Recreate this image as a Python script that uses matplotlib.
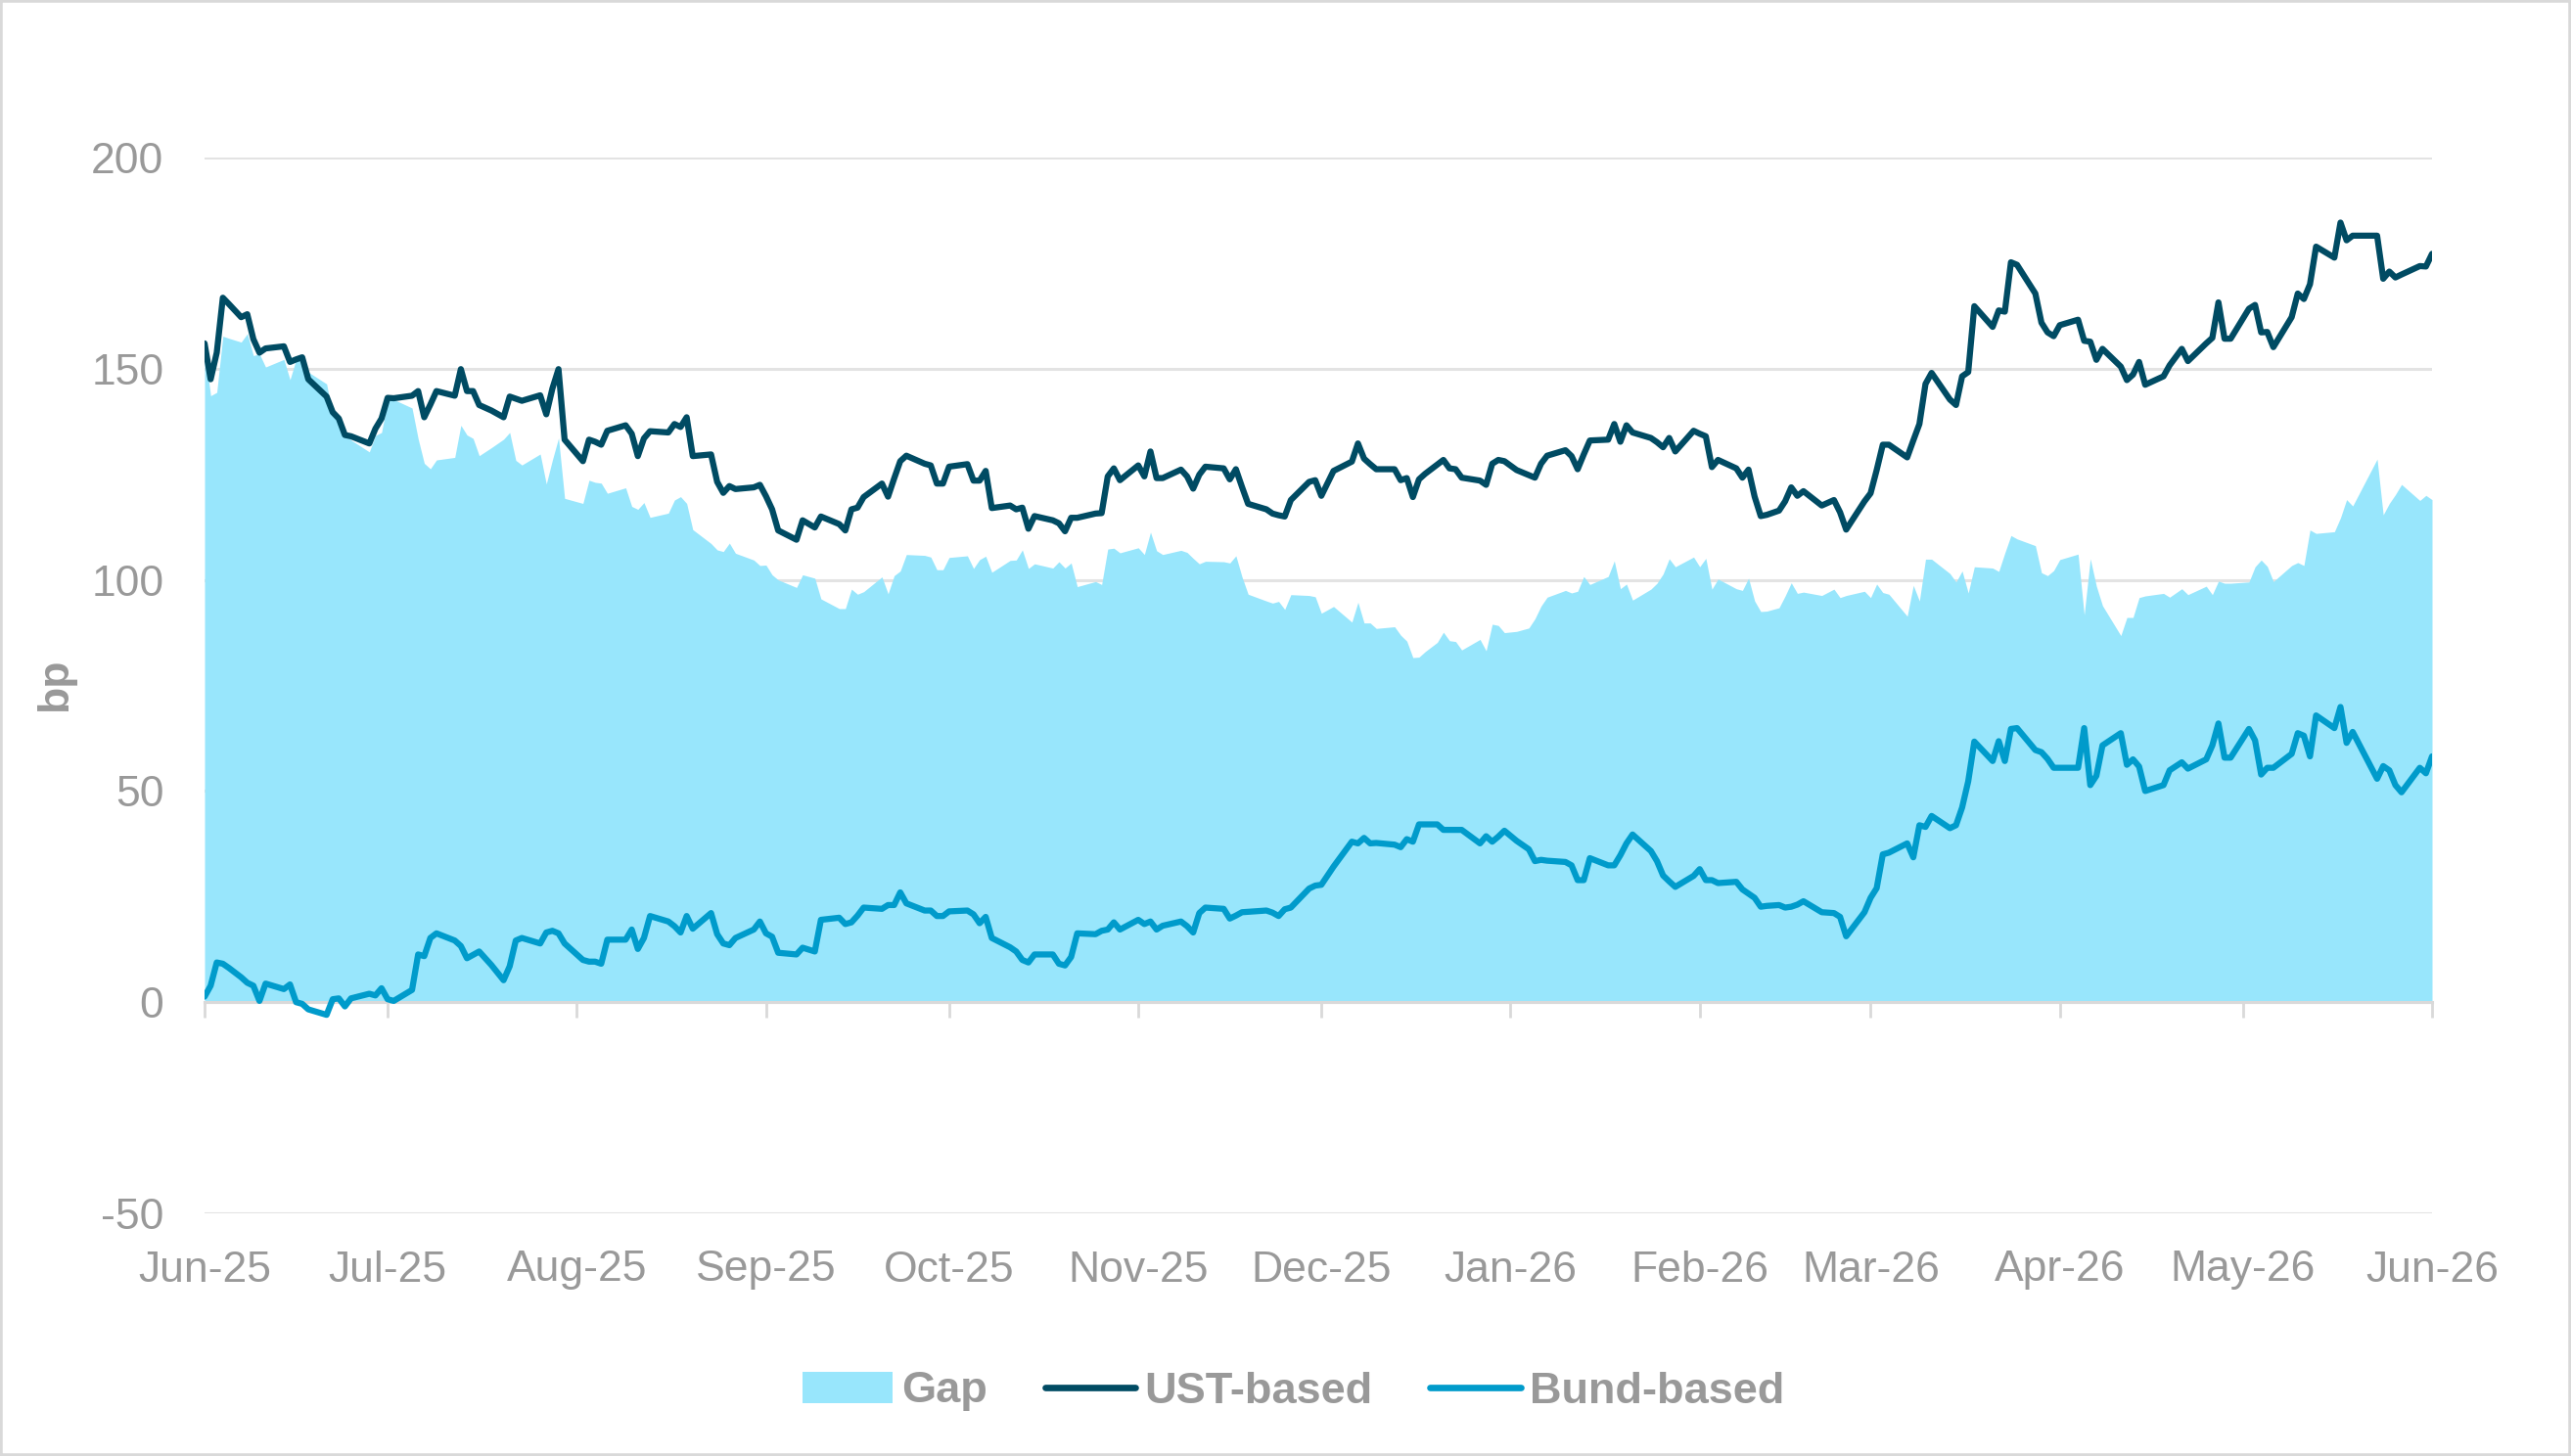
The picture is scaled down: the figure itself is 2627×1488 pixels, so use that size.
import matplotlib
matplotlib.use('Agg')
import matplotlib.pyplot as plt
import matplotlib.dates as mdates
from matplotlib.patches import Rectangle
from matplotlib.ticker import FixedLocator
import numpy as np
import pandas as pd

# ---------------- data ----------------
dates = [
    "2025-06-01", "2025-06-02", "2025-06-03", "2025-06-04", "2025-06-05", "2025-06-07", "2025-06-08", "2025-06-09",
    "2025-06-10", "2025-06-11", "2025-06-14", "2025-06-15", "2025-06-16", "2025-06-17", "2025-06-18", "2025-06-21",
    "2025-06-22", "2025-06-23", "2025-06-24", "2025-06-25", "2025-06-28", "2025-06-29", "2025-06-30", "2025-07-01",
    "2025-07-02", "2025-07-05", "2025-07-06", "2025-07-07", "2025-07-08", "2025-07-09", "2025-07-12", "2025-07-13",
    "2025-07-14", "2025-07-15", "2025-07-16", "2025-07-18", "2025-07-20", "2025-07-21", "2025-07-22", "2025-07-23",
    "2025-07-26", "2025-07-27", "2025-07-28", "2025-07-29", "2025-07-30", "2025-08-02", "2025-08-03", "2025-08-04",
    "2025-08-05", "2025-08-06", "2025-08-09", "2025-08-10", "2025-08-11", "2025-08-12", "2025-08-13", "2025-08-16",
    "2025-08-17", "2025-08-18", "2025-08-19", "2025-08-20", "2025-08-23", "2025-08-24", "2025-08-25", "2025-08-26",
    "2025-08-27", "2025-08-30", "2025-08-31", "2025-09-01", "2025-09-02", "2025-09-03", "2025-09-06", "2025-09-07",
    "2025-09-09", "2025-09-10", "2025-09-13", "2025-09-14", "2025-09-15", "2025-09-16", "2025-09-17", "2025-09-20",
    "2025-09-21", "2025-09-22", "2025-09-23", "2025-09-24", "2025-09-27", "2025-09-28", "2025-09-29", "2025-09-30",
    "2025-10-01", "2025-10-04", "2025-10-05", "2025-10-06", "2025-10-07", "2025-10-08", "2025-10-11", "2025-10-12",
    "2025-10-13", "2025-10-14", "2025-10-15", "2025-10-18", "2025-10-19", "2025-10-20", "2025-10-21", "2025-10-22",
    "2025-10-25", "2025-10-26", "2025-10-27", "2025-10-28", "2025-10-29", "2025-11-01", "2025-11-02", "2025-11-03",
    "2025-11-04", "2025-11-05", "2025-11-08", "2025-11-09", "2025-11-10", "2025-11-11", "2025-11-12", "2025-11-15",
    "2025-11-16", "2025-11-17", "2025-11-18", "2025-11-19", "2025-11-22", "2025-11-23", "2025-11-24", "2025-11-25",
    "2025-11-26", "2025-11-29", "2025-11-30", "2025-12-01", "2025-12-03", "2025-12-06", "2025-12-07", "2025-12-08",
    "2025-12-09", "2025-12-10", "2025-12-13", "2025-12-14", "2025-12-15", "2025-12-16", "2025-12-17", "2025-12-18",
    "2025-12-20", "2025-12-21", "2025-12-22", "2025-12-23", "2025-12-24", "2025-12-27", "2025-12-28", "2025-12-29",
    "2025-12-30", "2025-12-31", "2026-01-02", "2026-01-04", "2026-01-05", "2026-01-06", "2026-01-07", "2026-01-10",
    "2026-01-11", "2026-01-12", "2026-01-13", "2026-01-14", "2026-01-17", "2026-01-18", "2026-01-19", "2026-01-20",
    "2026-01-21", "2026-01-24", "2026-01-25", "2026-01-26", "2026-01-27", "2026-01-28", "2026-01-31", "2026-02-01",
    "2026-02-02", "2026-02-03", "2026-02-04", "2026-02-07", "2026-02-08", "2026-02-09", "2026-02-10", "2026-02-11",
    "2026-02-12", "2026-02-14", "2026-02-15", "2026-02-16", "2026-02-17", "2026-02-18", "2026-02-21", "2026-02-23",
    "2026-02-24", "2026-02-25", "2026-02-28", "2026-03-01", "2026-03-02", "2026-03-03", "2026-03-04", "2026-03-07",
    "2026-03-08", "2026-03-09", "2026-03-10", "2026-03-11", "2026-03-14", "2026-03-15", "2026-03-16", "2026-03-17",
    "2026-03-18", "2026-03-21", "2026-03-22", "2026-03-23", "2026-03-24", "2026-03-25", "2026-03-28", "2026-03-29",
    "2026-03-30", "2026-03-31", "2026-04-01", "2026-04-04", "2026-04-05", "2026-04-06", "2026-04-07", "2026-04-08",
    "2026-04-11", "2026-04-12", "2026-04-13", "2026-04-14", "2026-04-15", "2026-04-18", "2026-04-19", "2026-04-21",
    "2026-04-22", "2026-04-25", "2026-04-26", "2026-04-27", "2026-04-28", "2026-04-29", "2026-05-02", "2026-05-03",
    "2026-05-04", "2026-05-05", "2026-05-06", "2026-05-09", "2026-05-10", "2026-05-11", "2026-05-12", "2026-05-13",
    "2026-05-16", "2026-05-17", "2026-05-18", "2026-05-19", "2026-05-23", "2026-05-24", "2026-05-25", "2026-05-26",
    "2026-05-27", "2026-05-30", "2026-05-31", "2026-06-01",
]

ust_based = [
    156.0, 147.5, 153.8, 166.8, 165.3, 162.2, 162.9, 157.0,
    153.8, 154.8, 155.3, 151.6, 152.2, 152.7, 147.5, 143.4,
    139.7, 138.2, 134.3, 134.0, 132.3, 135.8, 138.2, 143.1,
    143.0, 143.6, 144.7, 138.5, 141.5, 144.7, 143.6, 149.9,
    144.7, 144.7, 141.4, 140.1, 138.5, 143.4, 142.9, 142.4,
    143.7, 139.2, 145.3, 149.9, 133.2, 128.1, 133.2, 132.7,
    132.0, 135.3, 136.6, 134.6, 129.3, 133.5, 135.2, 134.9,
    136.9, 136.2, 138.5, 129.3, 129.7, 123.2, 120.6, 122.2,
    121.5, 121.9, 122.5, 119.8, 116.7, 111.7, 109.5, 114.1,
    112.4, 115.0, 113.2, 111.7, 116.7, 117.1, 119.6, 122.8,
    119.7, 124.0, 128.1, 129.4, 127.5, 127.1, 122.8, 122.8,
    126.8, 127.4, 123.5, 123.5, 125.8, 117.0, 117.6, 116.7,
    117.1, 112.1, 115.1, 114.1, 113.4, 111.5, 114.7, 114.7,
    115.7, 115.8, 124.5, 126.4, 123.6, 127.1, 124.5, 130.4,
    124.1, 124.1, 126.1, 124.5, 121.6, 124.9, 126.8, 126.4,
    123.8, 126.2, 122.0, 118.0, 116.7, 115.7, 115.3, 115.0,
    118.9, 123.2, 123.6, 119.9, 125.8, 128.0, 132.3, 128.7,
    127.4, 126.2, 126.2, 123.6, 124.1, 119.6, 123.8, 125.1,
    127.3, 128.4, 126.4, 126.2, 124.2, 123.5, 122.5, 127.5,
    128.4, 128.1, 126.0, 124.8, 124.2, 127.5, 129.4, 130.7,
    129.3, 126.2, 129.7, 133.0, 133.2, 136.9, 132.7, 136.6,
    134.9, 133.6, 132.6, 131.4, 133.6, 130.4, 135.3, 134.6,
    134.0, 126.7, 128.4, 126.4, 124.2, 126.1, 119.7, 115.1,
    115.4, 116.4, 118.6, 121.9, 119.9, 121.0, 117.6, 118.9,
    116.0, 111.9, 118.6, 120.5, 126.0, 132.0, 132.0, 129.0,
    133.0, 136.9, 146.4, 149.0, 142.7, 141.4, 148.2, 149.2,
    164.8, 159.9, 163.8, 163.5, 175.2, 174.6, 167.8, 160.9,
    158.6, 157.7, 160.3, 161.6, 156.6, 156.4, 152.1, 154.7,
    150.5, 147.3, 148.6, 151.6, 146.2, 148.2, 150.8, 154.7,
    151.8, 156.0, 157.3, 165.7, 157.1, 157.1, 164.2, 165.1,
    158.6, 158.7, 155.1, 162.2, 167.8, 166.5, 170.0, 178.9,
    176.3, 184.6, 180.4, 181.5, 181.5, 171.3, 173.0, 171.6,
    172.3, 174.3, 174.2, 177.2,
]

bund_based = [
    1.3, 3.9, 9.4, 9.1, 8.1, 5.9, 4.6, 3.9,
    0.3, 4.4, 3.1, 4.2, 0.0, -0.4, -1.7, -3.0,
    0.7, 0.9, -1.0, 0.9, 2.0, 1.6, 3.3, 0.7,
    0.3, 2.9, 11.3, 10.9, 15.2, 16.3, 14.6, 13.3,
    10.4, 11.2, 12.0, 8.8, 5.2, 8.5, 14.6, 15.2,
    13.9, 16.5, 16.9, 16.3, 13.9, 10.0, 9.6, 9.6,
    9.1, 14.8, 14.8, 17.2, 12.6, 15.2, 20.4, 19.1,
    18.0, 16.5, 20.4, 17.4, 21.1, 16.1, 13.9, 13.5,
    15.2, 17.2, 19.1, 16.3, 15.5, 11.7, 11.3, 12.9,
    12.0, 19.5, 20.0, 18.5, 18.9, 20.5, 22.4, 22.1,
    23.0, 23.0, 26.0, 23.4, 21.7, 21.7, 20.4, 20.4,
    21.5, 21.7, 20.8, 18.7, 20.2, 15.2, 13.0, 12.0,
    10.0, 9.4, 11.3, 11.3, 9.1, 8.7, 10.7, 16.3,
    16.1, 16.9, 17.2, 18.9, 17.2, 19.5, 18.5, 19.1,
    17.2, 18.1, 19.1, 18.0, 16.5, 21.1, 22.4, 22.1,
    19.8, 20.5, 21.3, 21.4, 21.7, 21.2, 20.4, 22.0,
    22.4, 26.9, 27.6, 27.8, 32.1, 38.0, 37.6, 38.9,
    37.6, 37.7, 37.3, 36.7, 38.6, 38.0, 42.1, 42.1,
    42.1, 40.8, 40.8, 40.8, 40.8, 37.6, 39.3, 38.0,
    39.2, 40.6, 38.2, 36.2, 33.4, 33.7, 33.5, 33.2,
    32.4, 28.9, 28.9, 34.1, 32.4, 32.4, 34.8, 37.6,
    39.7, 35.8, 33.4, 30.0, 28.6, 27.3, 29.9, 31.5,
    28.9, 28.9, 28.2, 28.5, 26.7, 25.7, 24.7, 22.6,
    22.8, 23.0, 22.4, 22.6, 23.1, 23.9, 21.3, 21.1,
    20.2, 15.6, 21.3, 24.7, 27.0, 35.0, 35.4, 37.6,
    34.3, 41.9, 41.5, 44.1, 41.2, 41.9, 46.1, 52.3,
    61.7, 57.1, 61.8, 57.1, 64.7, 64.9, 59.7, 59.2,
    57.6, 55.5, 55.5, 55.5, 64.9, 51.4, 53.6, 60.8,
    63.7, 56.2, 57.5, 55.8, 50.0, 51.4, 54.9, 56.8,
    55.3, 57.5, 60.8, 66.0, 57.9, 57.9, 64.7, 62.0,
    53.9, 55.5, 55.5, 58.8, 63.7, 63.1, 58.2, 67.9,
    64.9, 69.9, 61.4, 64.0, 52.9, 55.9, 54.9, 51.4,
    49.7, 55.5, 54.2, 58.2,
]

series_labels = ["Gap", "UST-based", "Bund-based"]
y_ticks = [-50, 0, 50, 100, 150, 200]
x_start, x_end = "2025-06-01", "2026-06-01"
y_label = "bp"

# Gap = UST-based minus Bund-based
gap = np.array(ust_based) - np.array(bund_based)

# ---------------- styling ----------------
C_GAP = "#98E6FC"
C_UST = "#004B63"
C_BUND = "#009BCB"
C_TEXT = "#999999"
C_GRID = "#E3E3E3"

plt.rcParams['font.family'] = ['Liberation Sans', 'DejaVu Sans']
plt.rcParams['axes.unicode_minus'] = False

W, H = 2627, 1488
fig = plt.figure(figsize=(W / 100, H / 100), dpi=100)
ax = fig.add_axes([209 / W, 1 - 1240 / H, 2276 / W, 1079 / H])

LW = 4.5
x = pd.to_datetime(dates)
ax.fill_between(x, 0, gap, color=C_GAP, linewidth=0, label=series_labels[0], zorder=1)
ax.plot(x, ust_based, color=C_UST, lw=LW, label=series_labels[1], zorder=3,
        solid_joinstyle='round', solid_capstyle='round')
ax.plot(x, bund_based, color=C_BUND, lw=LW, label=series_labels[2], zorder=3,
        solid_joinstyle='round', solid_capstyle='round')

ax.set_xlim(pd.Timestamp(x_start), pd.Timestamp(x_end))
ax.set_ylim(min(y_ticks), max(y_ticks))
ax.set_yticks(y_ticks)
ax.yaxis.grid(True, color=C_GRID, lw=2.2)
ax.set_axisbelow(True)
for s in ['left', 'right', 'top']:
    ax.spines[s].set_visible(False)
ax.spines['bottom'].set_position(('data', 0))
ax.spines['bottom'].set_color('#D9D9D9')
ax.spines['bottom'].set_linewidth(2.2)
ax.spines['bottom'].set_zorder(2)

month_ticks = mdates.date2num(pd.date_range(x_start, x_end, freq='MS'))
ax.xaxis.set_major_locator(FixedLocator(month_ticks))
ax.tick_params(axis='x', direction='out', length=11.5, width=2, color='#D9D9D9',
               labelbottom=False)
ax.tick_params(axis='y', length=0, pad=30, labelsize=32, labelcolor=C_TEXT)

sec = ax.secondary_xaxis('bottom')
sec.xaxis.set_major_locator(FixedLocator(month_ticks))
sec.xaxis.set_major_formatter(mdates.DateFormatter('%b-%y'))
sec.tick_params(length=0, pad=27, labelsize=32, labelcolor=C_TEXT)
sec.spines['bottom'].set_visible(False)

fig.text(57 / W, 1 - 700 / H, y_label, rotation=90, ha='center', va='center',
         fontsize=32, fontweight='bold', color=C_TEXT)

handles, labels = ax.get_legend_handles_labels()
order = [labels.index(l) for l in series_labels]
leg = fig.legend([handles[i] for i in order], [labels[i] for i in order],
                 loc='center', bbox_to_anchor=(0.503, 1 - 1422 / H), ncol=3, frameon=False,
                 prop={'weight': 'bold', 'size': 32.5}, labelcolor=C_TEXT,
                 handlelength=2.05, handletextpad=0.2, columnspacing=1.3)
for line in leg.get_lines():
    line.set_linewidth(4.8)
    line.set_solid_capstyle('round')

fig.patches.append(Rectangle((0, 0), 1, 1, transform=fig.transFigure, fill=False,
                             edgecolor='#D9D9D9', lw=4))

fig.savefig('out.png', dpi=100)
